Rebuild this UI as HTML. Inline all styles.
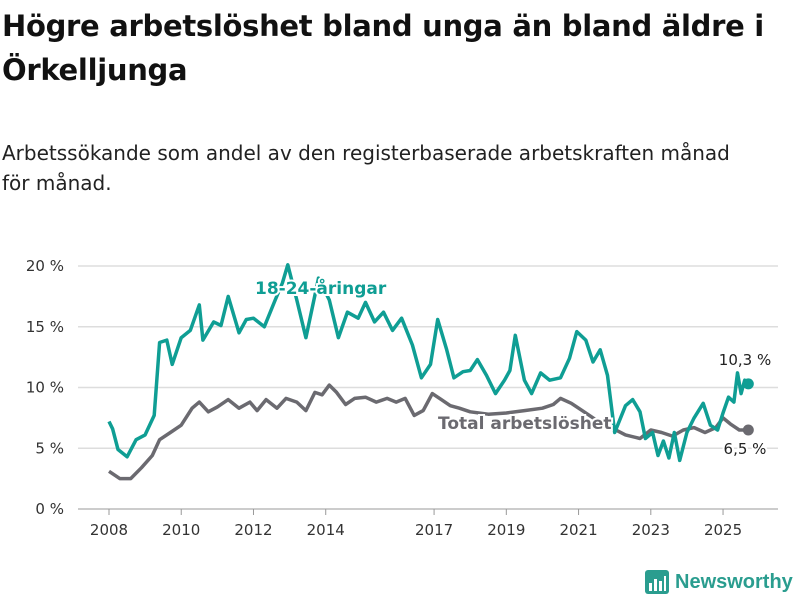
<!DOCTYPE html>
<html><head><meta charset="utf-8"><style>
body{margin:0;width:800px;height:600px;background:#fff;font-family:"Liberation Sans","DejaVu Sans",sans-serif;overflow:hidden;position:relative}
h1{position:absolute;left:2px;top:4px;margin:0;font:bold 29px/44px "DejaVu Sans",sans-serif;color:#111;letter-spacing:-0.3px;width:795px}
.sub{position:absolute;left:2px;top:138px;font:20px/30px "DejaVu Sans",sans-serif;color:#222;width:750px}
svg{position:absolute;left:0;top:0}
</style></head><body>
<h1>Högre arbetslöshet bland unga än bland äldre i Örkelljunga</h1>
<div class="sub">Arbetssökande som andel av den registerbaserade arbetskraften månad för månad.</div>
<svg id="c" width="800" height="600"></svg>
<script>
const yTicks=[0,5,10,15,20];
const xTicks=[2008,2010,2012,2014,2017,2019,2021,2023,2025];
const youthT=[2008,2008.1,2008.25,2008.5,2008.75,2009,2009.25,2009.4,2009.6,2009.75,2010,2010.25,2010.5,2010.6,2010.9,2011.1,2011.3,2011.6,2011.8,2012,2012.3,2012.6,2012.8,2012.95,2013.2,2013.45,2013.7,2013.8,2014.1,2014.35,2014.6,2014.9,2015.1,2015.35,2015.6,2015.85,2016.1,2016.4,2016.65,2016.9,2017.1,2017.35,2017.55,2017.8,2018,2018.2,2018.45,2018.7,2018.95,2019.1,2019.25,2019.5,2019.7,2019.95,2020.2,2020.5,2020.75,2020.95,2021.2,2021.4,2021.6,2021.8,2022,2022.3,2022.5,2022.7,2022.85,2023.05,2023.2,2023.35,2023.5,2023.65,2023.8,2024,2024.2,2024.45,2024.65,2024.85,2025.0,2025.15,2025.3,2025.4,2025.5,2025.6,2025.7];
const youthV=[7.2,6.6,4.9,4.3,5.7,6.1,7.7,13.7,13.9,11.9,14.1,14.7,16.8,13.9,15.4,15.1,17.5,14.5,15.6,15.7,15.0,17.2,18.6,20.1,17.2,14.1,17.6,19.0,17.2,14.1,16.2,15.7,17.0,15.4,16.2,14.7,15.7,13.5,10.8,11.9,15.6,13.1,10.8,11.3,11.4,12.3,11.0,9.5,10.6,11.4,14.3,10.6,9.5,11.2,10.6,10.8,12.4,14.6,13.9,12.1,13.1,11.0,6.3,8.5,9.0,8.0,5.8,6.3,4.4,5.6,4.2,6.3,4.0,6.3,7.5,8.7,6.9,6.5,7.9,9.2,8.8,11.2,9.5,10.6,10.3];
const totT=[2008,2008.3,2008.6,2008.9,2009.2,2009.4,2009.7,2010,2010.3,2010.5,2010.75,2011,2011.3,2011.6,2011.9,2012.1,2012.35,2012.65,2012.9,2013.2,2013.45,2013.7,2013.9,2014.1,2014.3,2014.55,2014.8,2015.1,2015.4,2015.7,2015.95,2016.2,2016.45,2016.7,2016.95,2017.2,2017.45,2017.7,2018,2018.5,2019,2019.5,2020,2020.3,2020.5,2020.8,2021.1,2021.5,2021.9,2022.3,2022.7,2023,2023.3,2023.6,2023.9,2024.2,2024.5,2024.8,2025,2025.2,2025.45,2025.7];
const totV=[3.1,2.5,2.5,3.4,4.4,5.7,6.3,6.9,8.3,8.8,8.0,8.4,9.0,8.3,8.8,8.1,9.0,8.3,9.1,8.8,8.1,9.6,9.4,10.2,9.6,8.6,9.1,9.2,8.8,9.1,8.8,9.1,7.7,8.1,9.5,9.0,8.5,8.3,8.0,7.8,7.9,8.1,8.3,8.6,9.1,8.7,8.1,7.3,6.7,6.1,5.8,6.5,6.3,6.0,6.5,6.7,6.3,6.7,7.5,7.0,6.5,6.5];
const NS="http://www.w3.org/2000/svg",svg=document.getElementById('c');
const X=t=>109+(t-2008)*36.12, Y=v=>509-v*12.15;
function mk(tag,at,txt){const e=document.createElementNS(NS,tag);for(const k in at)e.setAttribute(k,at[k]);if(txt!=null)e.textContent=txt;svg.appendChild(e);return e;}
yTicks.forEach(v=>{
 const l=mk('line',{x1:78,x2:778,y1:Y(v),y2:Y(v),stroke:v?'#ddd':'#999','stroke-width':v?1.5:1});
 
 
 const t=mk('text',{x:64,y:Y(v)+5,'text-anchor':'end','font-size':15,fill:'#333','font-family':'DejaVu Sans,sans-serif'},v+' %');
 
 
});
xTicks.forEach(y=>{
 const l=mk('line',{x1:X(y),x2:X(y),y1:509,y2:515,stroke:'#999'});
 
 
 const t=mk('text',{x:X(y),y:535,'text-anchor':'middle','font-size':15,fill:'#333','font-family':'DejaVu Sans,sans-serif'},y);
 
 
});
function line(T,V,c,name){
 const d=T.map((t,i)=>(i?'L':'M')+X(t).toFixed(1)+','+Y(V[i]).toFixed(1)).join('');
 const p=mk('path',{d,fill:'none',stroke:c,'stroke-width':3.5,'stroke-linejoin':'round'});
 
 
 const n=T.length-1;
 const dot=mk('circle',{cx:X(T[n]),cy:Y(V[n]),r:5.5,fill:c});
 
 
}
line(totT,totV,'#6b6a70','total');
line(youthT,youthV,'#0f9e94','youth');
function lab(x,y,txt,c,name,anchor,bold,size){
 const at={x,y,'text-anchor':anchor,'font-size':size,'font-weight':bold?'bold':'normal',fill:c,stroke:'#fff','stroke-width':4,'paint-order':'stroke','font-family':'DejaVu Sans,sans-serif'};
 const t=mk('text',at,txt);
 
 
}
lab(255,294,'18-24-åringar','#0f9e94','youth-series-label','start',true,17);
lab(438,429,'Total arbetslöshet','#6b6a70','total-series-label','start',true,17);
const n1=youthT.length-1,n2=totT.length-1;
lab(745,Y(youthV[n1])-19,'10,3 %','#222','youth-end-value','middle',false,15);
lab(745,Y(totV[n2])+24,'6,5 %','#222','total-end-value','middle',false,15);
</script>
<div style="position:absolute;left:645px;top:570px;display:flex;align-items:center;gap:6px">
<svg width="24" height="24" style="position:static"><rect x="0" y="0" width="24" height="24" rx="3" fill="#2a9d8f"/><rect x="4" y="13" width="3" height="8" fill="#fff"/><rect x="9" y="9" width="3" height="12" fill="#fff"/><rect x="14" y="11" width="3" height="10" fill="#fff"/><rect x="19" y="6" width="2" height="15" fill="#fff"/></svg>
<span style="font:bold 20px 'Liberation Sans',sans-serif;color:#2a9d8f">Newsworthy</span></div>
</body></html>
